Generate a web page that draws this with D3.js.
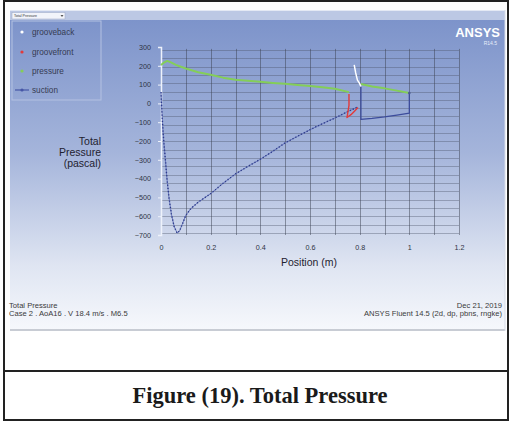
<!DOCTYPE html>
<html><head><meta charset="utf-8">
<script src="https://cdn.jsdelivr.net/npm/d3@7"></script>
<style>body{margin:0;background:#fff}svg{display:block}</style>
</head><body>
<script>
// ---- data ----
const xTicks = [0, 0.2, 0.4, 0.6, 0.8, 1, 1.2];
const xTickLabels = ["0", "0.2", "0.4", "0.6", "0.8", "1", "1.2"];
const yTicks = [300, 200, 100, 0, -100, -200, -300, -400, -500, -600, -700];
const legendNames = ["grooveback", "groovefront", "pressure", "suction"];

const suction1Pos = [0,0.002,0.006,0.011,0.017,0.024,0.032,0.042,0.053,0.065,0.075,0.085,0.1,0.12,0.15,0.2,0.25,0.3,0.35,0.4,0.45,0.5,0.55,0.6,0.65,0.7,0.75,0.79];
const suction1Val = [60,0,-100,-200,-290,-400,-500,-590,-655,-690,-678,-645,-595,-560,-525,-480,-425,-375,-335,-297,-255,-210,-175,-140,-108,-78,-45,-20];
const suction2Pos = [0.805,0.805,0.85,0.9,0.95,1.0,1.0];
const suction2Val = [90,-85,-80,-72,-62,-52,55];
const pressure1Pos = [0,0.01,0.025,0.04,0.06,0.08,0.1,0.15,0.2,0.25,0.3,0.35,0.4,0.45,0.5,0.55,0.6,0.65,0.7,0.757];
const pressure1Val = [204,215,226,218,205,195,186,166,152,137,126,120,115,109,104,98,93,86,78,60];
const pressure2Pos = [0.805,0.85,0.9,0.95,1.0];
const pressure2Val = [103,90,80,68,55];
const grooveFrontPos = [0.757,0.757,0.749,0.765,0.78,0.793];
const grooveFrontVal = [50,-10,-75,-60,-40,-22];
const grooveBackPos = [0.778,0.784,0.791,0.799,0.805];
const grooveBackVal = [205,162,124,108,90];

// ---- drawing ----
const W = 510, H = 421;
const svg = d3.select("body").append("svg").attr("width", W).attr("height", H);
const defs = svg.append("defs");
const grad = defs.append("linearGradient").attr("id","bg").attr("x1",0).attr("y1",0).attr("x2",0).attr("y2",1);
grad.append("stop").attr("offset","0%").attr("stop-color","#7a91c9");
grad.append("stop").attr("offset","45%").attr("stop-color","#a5b5db");
grad.append("stop").attr("offset","80%").attr("stop-color","#dfe5f2");
grad.append("stop").attr("offset","100%").attr("stop-color","#f6f8fc");

// window
svg.append("rect").attr("x",10).attr("y",10).attr("width",495).attr("height",320).attr("fill","url(#bg)");
svg.append("rect").attr("x",10).attr("y",10).attr("width",495).attr("height",10).attr("fill","#bcc8e4");
svg.append("line").attr("x1",10).attr("x2",505).attr("y1",10.5).attr("y2",10.5).attr("stroke","#e4e9f4");
svg.append("rect").attr("x",12).attr("y",12.5).attr("width",53).attr("height",6.5).attr("fill","#f2f4fa").attr("stroke","#9aa6c4").attr("stroke-width",0.5);
svg.append("text").attr("x",14).attr("y",17.3).attr("font-family","Liberation Sans, Arial").attr("font-size",3.6).attr("fill","#333").text("Total Pressure");
svg.append("path").attr("d","M60.5,15 L63.5,15 L62,17 Z").attr("fill","#555");
svg.append("line").attr("x1",10).attr("x2",505).attr("y1",330).attr("y2",330).attr("stroke","#c8ccd4").attr("stroke-width",2);
svg.append("line").attr("x1",505).attr("x2",505).attr("y1",10).attr("y2",331).attr("stroke","#d6dbe6").attr("stroke-width",1);

// scales
const x = d3.scaleLinear().domain([0, 1.2]).range([161, 459]);
const y = d3.scaleLinear().domain([-700, 300]).range([235, 47]);

// grid
const g = svg.append("g");
const hGrid = d3.range(284, -700, -44.2);
g.selectAll(".hg").data(hGrid).join("line")
  .attr("x1", x(0)).attr("x2", x(1.2))
  .attr("y1", d => Math.round(y(d)) + 0.5).attr("y2", d => Math.round(y(d)) + 0.5)
  .attr("stroke", "#4a5266").attr("stroke-opacity", 0.38).attr("stroke-width", 1);
const vGrid = d3.range(1, 13).map(i => i / 10);
g.selectAll(".vg").data(vGrid).join("line")
  .attr("x1", d => Math.round(x(d)) + 0.5).attr("x2", d => Math.round(x(d)) + 0.5)
  .attr("y1", y(290)).attr("y2", y(-700))
  .attr("stroke", "#3c4252").attr("stroke-opacity", 0.5).attr("stroke-width", 1);

// y axis (white)
const yAxis = d3.axisLeft(y).tickValues(yTicks).tickSize(3).tickFormat(d3.format("d"));
const ya = svg.append("g").attr("transform", `translate(${x(0)},0)`).call(yAxis);
ya.select(".domain").attr("stroke", "#eef2fb").attr("stroke-width", 1.5);
ya.selectAll(".tick line").attr("stroke", "#eef2fb");
ya.selectAll(".tick text").attr("x", -10).attr("fill", "#2e3344")
  .attr("font-family", "Liberation Sans, Arial").attr("font-size", 7.2);

// x axis labels only
const xAxis = d3.axisBottom(x).tickValues(xTicks).tickSize(0).tickFormat((d, i) => xTickLabels[i]);
const xa = svg.append("g").attr("transform", `translate(0,${y(-700) + 7})`).call(xAxis);
xa.select(".domain").remove();
xa.selectAll(".tick text").attr("fill", "#2e3344").attr("font-family", "Liberation Sans, Arial").attr("font-size", 7.2);

// axis titles
svg.append("text").attr("x", 309).attr("y", 266).attr("text-anchor", "middle")
  .attr("font-family", "Liberation Sans, Arial").attr("font-size", 10.5).attr("fill", "#1f2230").text("Position (m)");
["Total", "Pressure", "(pascal)"].forEach((t, i) => {
  svg.append("text").attr("x", 101).attr("y", 145 + i * 11).attr("text-anchor", "end")
    .attr("font-family", "Liberation Sans, Arial").attr("font-size", 10.5).attr("fill", "#1f2230").text(t);
});

// series
const line = d3.line().x(d => x(d[0])).y(d => y(d[1]));
function zip(a, b) { return a.map((v, i) => [v, b[i]]); }
function drawSeries(pos, val, color, width, dash) {
  const pts = zip(pos, val);
  const p = svg.append("path").datum(pts).attr("d", line).attr("fill", "none")
    .attr("stroke", color).attr("stroke-width", width).attr("stroke-linejoin", "round");
  if (dash) p.attr("stroke-dasharray", dash);
}
drawSeries(pressure1Pos, pressure1Val, "#84ce58", 2);
drawSeries(pressure2Pos, pressure2Val, "#84ce58", 2);
drawSeries(suction1Pos, suction1Val, "#6a79bd", 1);
drawSeries(suction1Pos, suction1Val, "#2e3c8a", 1.4, "1.2,2");
drawSeries(suction2Pos, suction2Val, "#3c4c9c", 1.3);
drawSeries(grooveFrontPos, grooveFrontVal, "#e23a3a", 1.4);
drawSeries(grooveBackPos, grooveBackVal, "#ffffff", 1.5);
svg.append("circle").attr("cx", x(1.0)).attr("cy", y(55)).attr("r", 1.3).attr("fill", "#4a5a90");

// legend
svg.append("rect").attr("x", 12).attr("y", 21).attr("width", 89).attr("height", 79)
  .attr("fill", "none").attr("stroke", "#b4c1e2").attr("stroke-width", 1);
const legColors = ["#ffffff", "#e23a3a", "#84ce58", "#4656a6"];
const legY = [32, 52, 71, 90];
legendNames.forEach((n, i) => {
  if (i === 3) svg.append("line").attr("x1", 15).attr("x2", 29).attr("y1", legY[i]).attr("y2", legY[i]).attr("stroke", legColors[i]).attr("stroke-width", 1.2);
  svg.append("circle").attr("cx", 22).attr("cy", legY[i]).attr("r", 1.6).attr("fill", legColors[i]);
  svg.append("text").attr("x", 32).attr("y", legY[i] + 3).attr("font-family", "Liberation Sans, Arial")
    .attr("font-size", 8.2).attr("fill", "#363b52").text(n);
});

// ANSYS logo
svg.append("text").attr("x", 500).attr("y", 37).attr("text-anchor", "end").attr("font-family", "Liberation Sans, Arial")
  .attr("font-weight", "bold").attr("font-size", 13).attr("fill", "#ffffff").text("ANSYS");
svg.append("text").attr("x", 497).attr("y", 45).attr("text-anchor", "end").attr("font-family", "Liberation Sans, Arial")
  .attr("font-size", 5).attr("fill", "#e8eefa").text("R14.5");

// footer
const foot = [["Total Pressure", 9, 308, "start"], ["Case 2 . AoA16  . V 18.4 m/s . M6.5", 9, 316, "start"],
              ["Dec 21, 2019", 502, 308, "end"], ["ANSYS Fluent 14.5 (2d, dp, pbns, rngke)", 502, 316, "end"]];
foot.forEach(f => svg.append("text").attr("x", f[1]).attr("y", f[2]).attr("text-anchor", f[3])
  .attr("font-family", "Liberation Sans, Arial").attr("font-size", 7.6).attr("fill", "#3a3a3a").text(f[0]));

// frame
const fr = svg.append("g").attr("stroke", "#222").attr("stroke-width", 2);
fr.append("line").attr("x1", 4).attr("x2", 4).attr("y1", 0).attr("y2", 421);
fr.append("line").attr("x1", 508).attr("x2", 508).attr("y1", 0).attr("y2", 421);
fr.append("line").attr("x1", 4).attr("x2", 508).attr("y1", 1).attr("y2", 1);
fr.append("line").attr("x1", 4).attr("x2", 508).attr("y1", 371).attr("y2", 371);
fr.append("line").attr("x1", 4).attr("x2", 508).attr("y1", 420).attr("y2", 420);

// caption
svg.append("text").attr("x", 260).attr("y", 403).attr("text-anchor", "middle")
  .attr("font-family", "Liberation Serif, Times New Roman, serif").attr("font-weight", "bold")
  .attr("font-size", 22.5).attr("fill", "#1a1a1a").text("Figure (19). Total Pressure");
</script>
</body></html>
